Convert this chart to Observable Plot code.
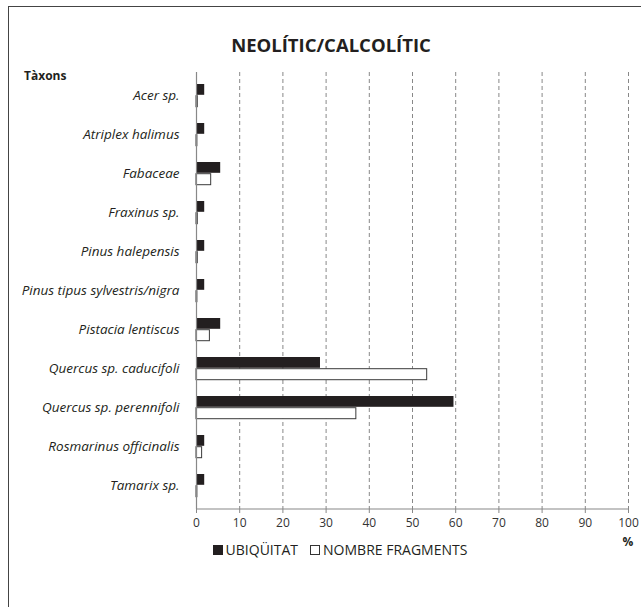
<!DOCTYPE html>
<html>
<head>
<meta charset="utf-8">
<script src="https://cdn.jsdelivr.net/npm/d3@7"></script>
<script src="https://cdn.jsdelivr.net/npm/@observablehq/plot@0.6"></script>
<style>
  html, body { margin: 0; background: #fff; font-family: "Open Sans", sans-serif; overflow: hidden; }
  #wrap { position: relative; width: 641px; height: 607px; overflow: hidden; background: #fff; }
  #frame { position: absolute; left: 8px; top: 6px; width: 1000px; height: 1000px; border: 1px solid #444; box-sizing: border-box; }
  #title { position: absolute; left: 0; width: 662px; top: 32px; text-align: center; font-weight: bold; font-size: 18.5px; color: #231f20; }
  #taxlabel { position: absolute; left: 24px; top: 67px; font-weight: bold; font-size: 12px; color: #231f20; }
  #legend { position: absolute; left: 0; width: 680px; top: 540px; text-align: center; font-size: 14px; color: #231f20; }
  .sw { display: inline-block; width: 10px; height: 10px; box-sizing: border-box; margin-right: 3px; vertical-align: 0px; }
  #plot { position: absolute; left: 0; top: 60px; }
</style>
</head>
<body>
<div id="wrap">
  <div id="frame"></div>
  <div id="title">NEOLÍTIC/CALCOLÍTIC</div>
  <div id="taxlabel">Tàxons</div>
  <div id="plot"></div>
  <div id="legend"></div>
</div>
<script>
const taxa = ["Acer sp.", "Atriplex halimus", "Fabaceae", "Fraxinus sp.", "Pinus halepensis",
  "Pinus tipus sylvestris/nigra", "Pistacia lentiscus", "Quercus sp. caducifoli",
  "Quercus sp. perennifoli", "Rosmarinus officinalis", "Tamarix sp."];
const ubiquitat = [1.9, 1.9, 5.6, 1.9, 1.9, 1.9, 5.6, 28.7, 59.6, 1.9, 1.9];
const fragments = [0.3, 0.2, 3.4, 0.3, 0.3, 0.2, 3.1, 53.4, 37.0, 1.3, 0.2];
const xTicks = [0, 10, 20, 30, 40, 50, 60, 70, 80, 90, 100];
const seriesNames = ["UBIQÜITAT", "NOMBRE FRAGMENTS"];

const ubiqData = taxa.map((t, i) => ({taxon: t, value: ubiquitat[i]}));
const fragData = taxa.map((t, i) => ({taxon: t, value: fragments[i]}));

const chart = Plot.plot({
  width: 641,
  height: 490,
  marginTop: 12,
  marginBottom: 41,
  marginLeft: 196,
  marginRight: 13,
  style: {fontFamily: "Open Sans, sans-serif", fontSize: "12px", color: "#333", background: "transparent"},
  x: {domain: [0, 100], ticks: xTicks, label: null},
  y: {domain: taxa, padding: 0, label: null},
  marks: [
    Plot.gridX(xTicks, {stroke: "#888", strokeOpacity: 1, strokeDasharray: "4,3"}),
    Plot.barX(ubiqData, {x: "value", y: "taxon", fill: "#231f20", insetTop: 8, insetBottom: 20.2}),
    Plot.barX(fragData, {x: "value", y: "taxon", fill: "#fff", stroke: "#3a3a3a", strokeWidth: 1, insetTop: 19.7, insetBottom: 8.3}),
    Plot.ruleX([0], {stroke: "#888", strokeWidth: 1.2}),
    Plot.axisX({ticks: xTicks, tickSize: 4, tickPadding: 5, stroke: "#888", fill: "#333", fontSize: 12, label: null}),
    Plot.axisY({tickSize: 0, tickPadding: 17, fontSize: 13.5, fontStyle: "italic", fill: "#231f20", label: null})
  ]
});
document.getElementById("plot").appendChild(chart);

// x axis line and % label
const svg = d3.select(chart);
svg.append("line")
  .attr("x1", 196).attr("x2", 628).attr("y1", 449).attr("y2", 449)
  .attr("stroke", "#888").attr("stroke-width", 1.2);
svg.append("text")
  .attr("x", 628).attr("y", 486).attr("text-anchor", "middle")
  .attr("font-weight", "bold").attr("font-size", 12).attr("fill", "#231f20")
  .text("%");

const legend = document.getElementById("legend");
legend.innerHTML =
  `<span class="sw" style="background:#231f20;"></span>${seriesNames[0]}` +
  `<span style="display:inline-block;width:12px"></span>` +
  `<span class="sw" style="background:#fff;border:1px solid #333;"></span>${seriesNames[1]}`;
</script>
</body>
</html>
